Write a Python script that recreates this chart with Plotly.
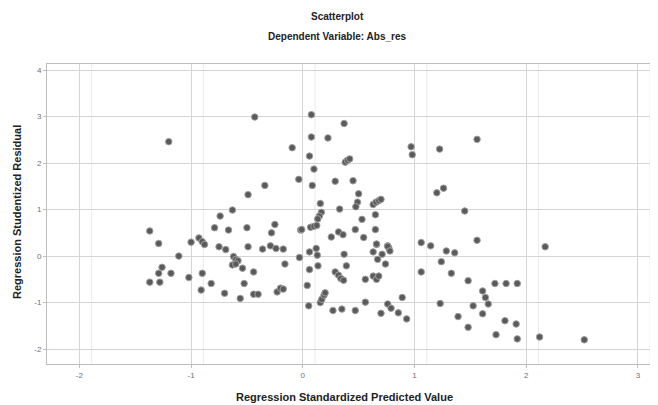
import plotly.graph_objects as go

# Regression Standardized Predicted Value (x) and Regression Studentized Residual (y)
pred_value = [
    -0.43, -1.20, -0.095, -0.036, -0.34, -0.49, -0.63, -0.74, -0.79, -0.665,
    -0.50, -0.25, -0.28, -0.02, -1.37, -1.29, -1.00, -0.93, -0.90, -0.88,
    -0.75, -0.69, -0.49, -0.36, -0.29, -0.24, -0.175, -1.11, -0.03, -0.62,
    -0.60, -0.58, -0.63, -0.60, -0.54, -0.44, -0.16, -1.26, -1.29, -1.18,
    -1.37, -1.28, -1.02, -0.90, -0.82, -0.91, -0.70, -0.525, -0.56, -0.44,
    -0.40, -0.23, -0.20, -0.175,
    0.077, 0.37, 0.077, 0.225, 0.06, 0.97, 0.98, 1.225, 0.38, 0.40,
    0.42, 0.10, 0.085, 0.29, 0.45, 1.20, 1.26, 0.50, 0.49, 0.475,
    0.63, 0.655, 0.68, 0.70, 0.157, 0.166, 0.148, 0.134, 0.33, 0.53,
    0.65, -0.01, 0.07, 0.10, 0.125, 0.47, 0.65, 0.32, 0.36, 0.255,
    0.545, 0.66, 0.76, 0.77, 1.06, 1.145, 1.285, 1.36,
    0.06, 0.12, 0.13, 0.06, 0.136, 0.04, 0.053, 0.157, 0.17, 0.19,
    0.20, 0.27, 0.35, 0.47, 0.37, 0.39, 0.29, 0.32, 0.34, 0.365,
    0.56, 0.63, 0.66, 0.68, 0.56, 0.63, 0.66, 0.71, 0.76, 0.78,
    0.67, 0.74, 0.70, 0.76, 0.79, 0.855, 0.89, 0.93, 1.06, 1.24,
    1.33, 1.23, 1.39,
    1.56, 1.45, 1.56, 2.17, 1.48, 1.72, 1.82, 1.92, 1.61, 1.635,
    1.66, 1.525, 1.61, 1.48, 1.81, 1.91, 1.73, 1.92, 2.12, 2.52,
]
stud_residual = [
    2.99, 2.46, 2.33, 1.65, 1.52, 1.32, 0.99, 0.86, 0.61, 0.56,
    0.61, 0.68, 0.50, 0.56, 0.54, 0.27, 0.30, 0.39, 0.31, 0.25,
    0.20, 0.14, 0.20, 0.15, 0.22, 0.165, 0.15, 0.00, -0.03, -0.01,
    -0.07, -0.10, -0.19, -0.17, -0.26, -0.34, -0.17, -0.24, -0.37, -0.37,
    -0.56, -0.56, -0.46, -0.37, -0.59, -0.73, -0.80, -0.59, -0.91, -0.82,
    -0.82, -0.77, -0.69, -0.71,
    3.04, 2.85, 2.56, 2.54, 2.15, 2.35, 2.18, 2.30, 2.02, 2.06,
    2.09, 1.87, 1.52, 1.61, 1.62, 1.36, 1.46, 1.34, 1.16, 1.06,
    1.11, 1.16, 1.19, 1.22, 1.13, 0.94, 0.86, 0.80, 1.01, 0.79,
    0.89, 0.57, 0.62, 0.64, 0.66, 0.57, 0.57, 0.52, 0.46, 0.41,
    0.40, 0.25, 0.22, 0.18, 0.29, 0.22, 0.11, 0.07,
    0.09, 0.165, 0.02, -0.29, -0.21, -0.63, -1.07, -1.00, -0.93, -0.84,
    -0.79, -1.17, -1.14, -1.17, 0.04, -0.21, -0.34, -0.41, -0.48, -0.52,
    -0.50, -0.43, -0.50, -0.43, -0.99, 0.09, 0.26, 0.04, 0.21, 0.11,
    -0.07, -0.17, -1.23, -1.03, -1.12, -1.22, -0.89, -1.35, -0.34, -0.12,
    -0.37, -1.02, -1.30,
    2.51, 0.97, 0.34, 0.20, -0.53, -0.59, -0.59, -0.59, -0.75, -0.89,
    -1.03, -1.07, -1.24, -1.53, -1.39, -1.46, -1.69, -1.78, -1.74, -1.80,
]

x_ticks = [-2, -1, 0, 1, 2, 3]
y_ticks = [-2, -1, 0, 1, 2, 3, 4]

# the page body adds an 8 px margin, so the figure is 8 px smaller on each axis
OFF = 8
W, H = 658 - OFF, 405 - OFF
ML, MR, MT, MB = 47 - OFF, 0, 64 - OFF, 405 - 364
plot_h = H - MT - MB
plot_w = W - ML - MR


def py(pix):
    return (H - MB - (pix - OFF)) / plot_h


def px(pix):
    return ((pix - OFF) - ML) / plot_w


fig = go.Figure()
fig.add_trace(go.Scatter(
    x=pred_value, y=stud_residual, mode="markers",
    marker=dict(size=6.5, color="#5a5a5a", line=dict(color="#a0a0a0", width=1)),
    showlegend=False, hoverinfo="x+y",
))

# faint secondary grid lines just right of each vertical grid line (as in the reference)
for t in x_ticks:
    fig.add_shape(type="line", xref="x", yref="paper", x0=t + 0.11, x1=t + 0.11, y0=0, y1=1,
                  line=dict(color="#ebebeb", width=1), layer="below")

fig.update_layout(
    width=W, height=H,
    margin=dict(l=ML, r=MR, t=MT, b=MB, autoexpand=False),
    paper_bgcolor="white", plot_bgcolor="white",
    font=dict(family="Liberation Sans, Arial, sans-serif", color="#222"),
    annotations=[
        dict(text="<b>Scatterplot</b>", x=px(337), y=py(16), xref="paper", yref="paper",
             showarrow=False, font=dict(size=10), yanchor="middle"),
        dict(text="<b>Dependent Variable: Abs_res</b>", x=px(337), y=py(37), xref="paper", yref="paper",
             showarrow=False, font=dict(size=10), yanchor="middle"),
        dict(text="<b>Regression Standardized Predicted Value</b>", x=px(344), y=py(397),
             xref="paper", yref="paper", showarrow=False, font=dict(size=11), yanchor="middle"),
        dict(text="<b>Regression Studentized Residual</b>", x=px(17), y=py(212),
             xref="paper", yref="paper", showarrow=False, font=dict(size=11),
             textangle=-90, xanchor="center", yanchor="middle"),
    ],
)

fig.update_xaxes(
    range=[-2.29, 3.18], tickvals=x_ticks, ticktext=[str(v) for v in x_ticks],
    showgrid=True, gridcolor="#d4d4d4", gridwidth=1, zeroline=False,
    showline=True, linecolor="#bdbdbd", linewidth=1, mirror=True,
    ticks="outside", ticklen=3, tickcolor="#bdbdbd",
    tickfont=dict(size=8, color="#707070"), automargin=False,
)
fig.update_yaxes(
    range=[-2.32, 4.13], tickvals=y_ticks, ticktext=[str(v) for v in y_ticks],
    showgrid=True, gridcolor="#d4d4d4", gridwidth=1, zeroline=False,
    showline=True, linecolor="#bdbdbd", linewidth=1, mirror=True,
    ticks="outside", ticklen=3, tickcolor="#bdbdbd",
    tickfont=dict(size=8, color="#707070"), automargin=False,
)

fig.write_html("out.html")
